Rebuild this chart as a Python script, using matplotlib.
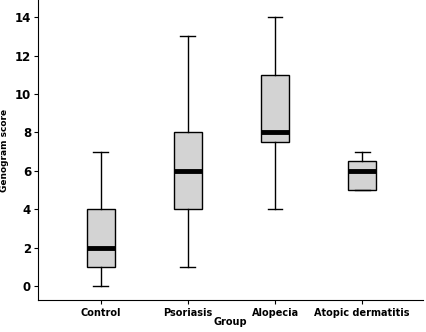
import matplotlib
matplotlib.use('Agg')
import matplotlib.pyplot as plt

groups = ['Control', 'Psoriasis', 'Alopecia', 'Atopic dermatitis']
whisker_low = [0, 1, 4, 5]
q1 = [1, 4, 7.5, 5]
median = [2, 6, 8, 6]
q3 = [4, 8, 11, 6.5]
whisker_high = [7, 13, 14, 7]

stats = []
for i, g in enumerate(groups):
    stats.append({'label': g, 'whislo': whisker_low[i], 'q1': q1[i], 'med': median[i],
                  'q3': q3[i], 'whishi': whisker_high[i], 'fliers': []})

fig = plt.figure(figsize=(4.27, 3.32), dpi=100)
ax = fig.add_axes([0.089, 0.096, 0.902, 0.904])

ax.bxp(stats, positions=[1, 2, 3, 4], widths=0.32, patch_artist=True, showfliers=False,
       boxprops=dict(facecolor='#d3d3d3', edgecolor='black', linewidth=1),
       medianprops=dict(color='black', linewidth=3.5, solid_capstyle='butt'),
       whiskerprops=dict(color='black', linewidth=1),
       capprops=dict(color='black', linewidth=1),
       capwidths=0.17)

ax.set_xlim(0.28, 4.70)
ax.set_ylim(-0.73, 14.9)
ax.set_yticks([0, 2, 4, 6, 8, 10, 12, 14])
ax.spines['top'].set_visible(False)
ax.spines['right'].set_visible(False)
ax.tick_params(axis='y', labelsize=8.5, length=3, pad=2)
ax.tick_params(axis='x', labelsize=7, length=3, pad=3)
for lab in ax.get_yticklabels() + ax.get_xticklabels():
    lab.set_fontweight('bold')

ax.set_ylabel('Genogram score', fontsize=6.5, fontweight='bold')
ax.yaxis.set_label_coords(-0.076, 0.5)
ax.set_xlabel('Group', fontsize=7, fontweight='bold', labelpad=-1)

fig.savefig('out.png', dpi=100)
